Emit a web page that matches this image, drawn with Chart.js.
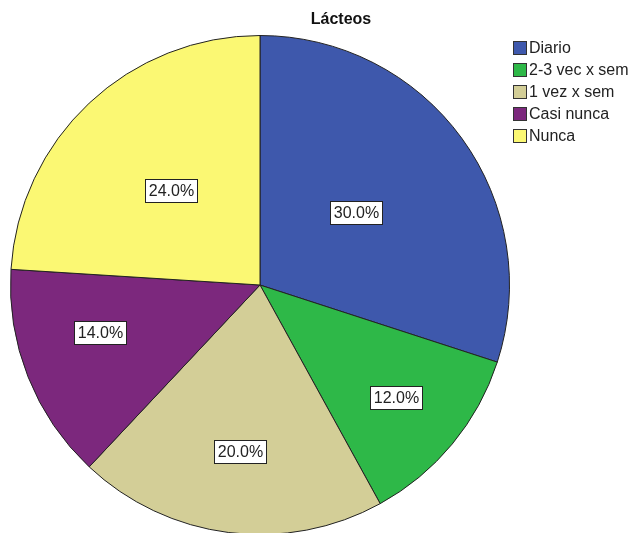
<!DOCTYPE html>
<html>
<head>
<meta charset="utf-8">
<script src="https://cdn.jsdelivr.net/npm/chart.js@4/dist/chart.umd.min.js"></script>
<style>
  body { margin: 0; overflow: hidden; background: #fff; font-family: "Liberation Sans", Arial, sans-serif; }
  #wrap { position: relative; width: 638px; height: 545px; }
  #title { position: absolute; left: 300px; width: 82px; top: 10px; text-align: center; font-weight: bold; font-size: 16px; color: #111; }
  #legend { position: absolute; left: 513px; top: 37px; font-size: 16px; color: #222; }
  #legend div { height: 22px; line-height: 22px; white-space: nowrap; }
  #legend span { display: inline-block; width: 14px; height: 14px; border: 1px solid #333; box-sizing: border-box; vertical-align: -2px; margin-right: 2px; }
</style>
</head>
<body>
<div id="wrap">
  <canvas id="pie" width="638" height="545"></canvas>
  <div id="title">Lácteos</div>
  <div id="legend"></div>
</div>
<script>
// data
const categories = ['Diario', '2-3 vec x sem', '1 vez x sem', 'Casi nunca', 'Nunca'];
const percents = [30.0, 12.0, 20.0, 14.0, 24.0];
const sliceColors = ['#3E58AC', '#2EB848', '#D3CE97', '#7C287D', '#FBF873'];

// where each % label sits: share of radius, plus a small angle nudge (deg)
const labelDist = [0.48, 0.71, 0.67, 0.67, 0.52];
const labelNudge = [-1, 0, -0.5, 5, 0];

// html legend
$legend = document.getElementById('legend');
categories.forEach((c, i) => {
    let row = document.createElement('div');
    row.innerHTML = `<span style="background:${sliceColors[i]}"></span>${c}`;
    $legend.appendChild(row);
});

// boxed percentage labels drawn on the arcs
const boxLabels = {
    id: 'boxLabels',
    afterDatasetsDraw(chart) {
        const ctx = chart.ctx;
        const arcs = chart.getDatasetMeta(0).data;
        ctx.save();
        ctx.font = '16px "Liberation Sans", Arial, sans-serif';
        ctx.textAlign = 'center';
        ctx.textBaseline = 'middle';
        arcs.forEach((arc, i) => {
            const mid = (arc.startAngle + arc.endAngle) / 2 + labelNudge[i] * Math.PI / 180;
            const r = arc.outerRadius * labelDist[i];
            const x = arc.x + Math.cos(mid) * r;
            const y = arc.y + Math.sin(mid) * r;
            const txt = percents[i].toFixed(1) + '%';
            const w = Math.round(ctx.measureText(txt).width + 7);
            const h = 23;
            const bx = Math.round(x - w / 2) + 0.5, by = Math.round(y - h / 2) + 0.5;
            ctx.fillStyle = '#fff';
            ctx.fillRect(bx, by, w, h);
            ctx.strokeStyle = '#222';
            ctx.lineWidth = 1;
            ctx.strokeRect(bx, by, w, h);
            ctx.fillStyle = '#222';
            ctx.fillText(txt, bx + w / 2, by + h / 2 + 1);
        });
        ctx.restore();
    }
};

new Chart(document.getElementById('pie'), {
    type: 'pie',
    data: {
        labels: categories,
        datasets: [{
            data: percents,
            backgroundColor: sliceColors,
            borderColor: '#222',
            borderWidth: 1
        }]
    },
    options: {
        responsive: false,
        animation: false,
        layout: { padding: { left: 10, top: 35, right: 128, bottom: 10 } },
        plugins: {
            legend: { display: false },
            tooltip: { enabled: false }
        }
    },
    plugins: [boxLabels]
});
</script>
</body>
</html>
